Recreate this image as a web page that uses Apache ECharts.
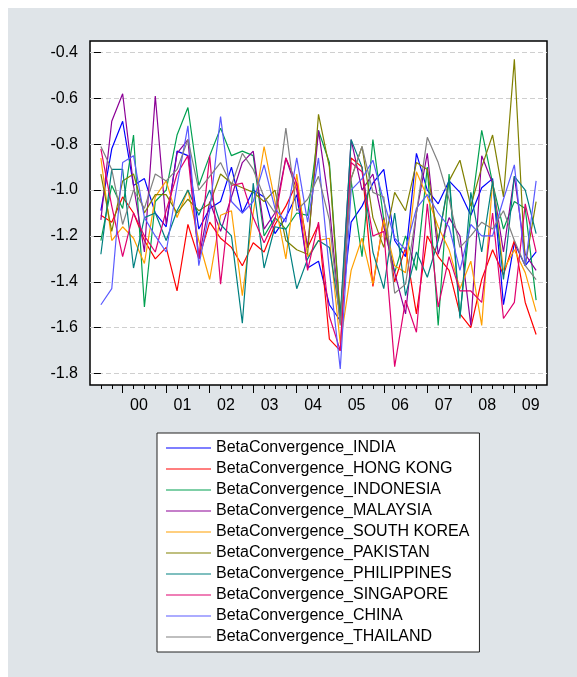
<!DOCTYPE html>
<html>
<head>
<meta charset="utf-8">
<script src="https://cdn.jsdelivr.net/npm/echarts@6/dist/echarts.min.js"></script>
<style>
	html, body { margin: 0; padding: 0; background: #fff; }
	#panel { position: absolute; left: 8px; top: 8px; width: 569px; height: 669px; background: #dfe4e8; }
	#chart { position: absolute; left: 0; top: 0; width: 577px; height: 677px; }
</style>
</head>
<body>
<div id="panel"></div>
<div id="chart"></div>
<script>
// quarterly observations, 1999Q3 .. 2009Q3 (index 0 .. 40)
const yearLabels = ['00', '01', '02', '03', '04', '05', '06', '07', '08', '09'];
const yTicks = [-1.8, -1.6, -1.4, -1.2, -1.0, -0.8, -0.6, -0.4];

const india = [-1.09, -0.82, -0.70, -0.98, -0.95, -1.10, -1.16, -0.83, -0.85, -1.17, -1.08, -1.05, -0.90, -1.10,
	-1.00, -1.03, -1.19, -1.12, -1.02, -1.34, -1.31, -1.50, -1.57, -1.14, -1.07, -0.97, -0.91, -1.22,
	-1.29, -0.84, -1.00, -1.06, -0.96, -1.01, -1.11, -0.99, -0.95, -1.50, -1.23, -1.33, -1.27];
const hongKong = [-1.11, -1.14, -1.03, -1.10, -1.22, -1.30, -1.25, -1.44, -1.15, -1.30, -1.14, -1.21, -1.25, -1.33,
	-1.23, -1.27, -1.15, -1.07, -0.97, -1.25, -1.15, -1.65, -1.70, -0.86, -0.90, -1.42, -1.12, -1.40,
	-1.25, -1.54, -1.20, -1.29, -1.35, -1.54, -1.60, -1.39, -1.26, -1.37, -1.22, -1.49, -1.63];
const indonesia = [-1.22, -0.98, -1.08, -0.76, -1.51, -1.05, -1.00, -0.76, -0.64, -0.98, -0.85, -0.73, -0.85, -0.83,
	-0.85, -1.20, -1.12, -1.17, -1.10, -1.11, -0.74, -0.88, -1.55, -0.96, -1.29, -0.78, -1.13, -1.36,
	-1.20, -1.35, -0.90, -1.59, -0.93, -1.55, -1.10, -0.74, -0.97, -1.17, -1.05, -1.08, -1.48];
const malaysia = [-1.13, -0.70, -0.58, -0.98, -1.27, -0.59, -1.15, -0.84, -0.78, -1.30, -1.05, -1.18, -1.03, -0.88,
	-0.83, -1.17, -1.10, -0.86, -1.00, -1.25, -0.74, -1.07, -1.58, -0.78, -1.00, -0.93, -1.16, -1.36,
	-1.54, -1.10, -0.84, -1.28, -1.12, -1.20, -1.59, -0.85, -0.97, -1.27, -0.94, -1.28, -1.35];
const southKorea = [-0.86, -1.22, -1.16, -1.21, -1.32, -1.03, -0.96, -1.12, -1.00, -1.22, -1.39, -1.11, -1.09, -1.46,
	-1.10, -0.81, -1.05, -1.30, -0.93, -1.29, -1.22, -1.21, -1.67, -1.35, -1.21, -1.41, -1.13, -1.33,
	-1.36, -0.92, -1.03, -1.16, -1.26, -1.43, -1.31, -1.59, -0.96, -1.35, -1.26, -1.36, -1.53];
const pakistan = [-0.93, -1.18, -0.96, -0.93, -1.10, -1.02, -1.02, -1.10, -1.04, -1.09, -1.06, -0.93, -0.97, -0.99,
	-1.01, -1.05, -1.00, -1.22, -1.26, -1.28, -0.67, -0.90, -1.56, -0.95, -0.81, -1.12, -1.25, -1.01,
	-1.09, -0.88, -0.91, -1.22, -0.96, -0.87, -1.07, -0.90, -0.76, -1.03, -0.43, -1.33, -1.05];
const philippines = [-1.28, -0.91, -0.91, -1.34, -1.12, -1.10, -1.22, -1.09, -1.00, -1.11, -1.00, -1.15, -1.20, -1.58,
	-0.97, -1.34, -1.16, -1.17, -1.43, -1.30, -1.22, -1.25, -1.55, -0.78, -0.90, -1.27, -1.43, -1.10,
	-1.46, -1.27, -1.38, -1.22, -0.95, -1.56, -1.01, -1.27, -0.96, -1.39, -0.94, -1.00, -1.19];
const singapore = [-0.82, -1.07, -1.29, -1.10, -1.20, -1.27, -1.09, -0.93, -0.85, -1.30, -0.85, -1.41, -0.98, -0.97,
	-1.12, -1.23, -1.13, -0.86, -0.97, -1.35, -1.14, -1.55, -1.70, -0.88, -0.92, -1.20, -1.18, -1.77,
	-1.48, -1.62, -1.06, -1.51, -1.29, -1.44, -1.44, -1.49, -1.10, -1.56, -1.49, -1.06, -1.27];
const china = [-1.50, -1.43, -0.88, -0.85, -1.12, -1.20, -1.27, -0.98, -0.72, -1.33, -1.09, -0.68, -1.05, -1.10,
	-1.05, -0.89, -1.08, -1.14, -0.86, -1.14, -0.86, -1.35, -1.78, -1.00, -0.95, -0.87, -1.05, -1.21,
	-1.26, -1.08, -1.02, -1.10, -1.16, -1.35, -1.15, -1.20, -1.20, -1.04, -0.89, -1.33, -0.96];
const thailand = [-0.81, -0.91, -1.15, -1.00, -1.08, -0.93, -0.96, -0.91, -0.78, -1.00, -0.94, -0.88, -0.98, -0.84,
	-0.91, -1.03, -1.10, -0.73, -1.09, -1.04, -0.94, -1.13, -1.59, -0.95, -0.81, -1.01, -1.03, -1.45,
	-1.41, -1.10, -0.77, -0.88, -1.04, -1.25, -1.20, -1.14, -1.17, -1.09, -1.22, -1.33, -1.39];

const seriesList = [
	{ name: 'BetaConvergence_INDIA', data: india, color: '#0000ff' },
	{ name: 'BetaConvergence_HONG KONG', data: hongKong, color: '#ff0000' },
	{ name: 'BetaConvergence_INDONESIA', data: indonesia, color: '#00a050' },
	{ name: 'BetaConvergence_MALAYSIA', data: malaysia, color: '#8c0096' },
	{ name: 'BetaConvergence_SOUTH KOREA', data: southKorea, color: '#ffa000' },
	{ name: 'BetaConvergence_PAKISTAN', data: pakistan, color: '#808000' },
	{ name: 'BetaConvergence_PHILIPPINES', data: philippines, color: '#008080' },
	{ name: 'BetaConvergence_SINGAPORE', data: singapore, color: '#e0006e' },
	{ name: 'BetaConvergence_CHINA', data: china, color: '#5a5aff' },
	{ name: 'BetaConvergence_THAILAND', data: thailand, color: '#808080' },
];

const quarterTicks = india.map((v, i) => i);
const yearTicks = yearLabels.map((y, k) => 2 + 4 * k);
const yearLabelPos = yearLabels.map((y, k) => 3.5 + 4 * k);

const font = '"Liberation Sans", Arial, sans-serif';

const chart = echarts.init(document.getElementById('chart'), null, { renderer: 'canvas' });

const option = {
	animation: false,
	backgroundColor: 'transparent',
	grid: {
		left: 90,
		top: 41,
		right: 30,
		bottom: 292,
		show: true,
		backgroundColor: '#fff',
		borderColor: '#000',
		borderWidth: 1.5,
	},
	xAxis: [
		{
			type: 'value',
			min: -1,
			max: 41,
			axisLine: { show: false, onZero: false },
			axisTick: { show: true, customValues: quarterTicks, length: 4, lineStyle: { color: '#000' } },
			axisLabel: { show: false },
			splitLine: { show: false },
		},
		{
			type: 'value',
			min: -1,
			max: 41,
			position: 'bottom',
			axisLine: { show: false, onZero: false },
			axisTick: { show: true, customValues: yearTicks, length: 8, lineStyle: { color: '#000' } },
			axisLabel: {
				show: true,
				customValues: yearLabelPos,
				margin: 13,
				fontSize: 16,
				color: '#000',
				fontFamily: font,
				formatter: (v) => yearLabels[Math.round((v - 3.5) / 4)],
			},
			splitLine: { show: false },
		},
	],
	yAxis: {
		type: 'value',
		min: -1.85,
		max: -0.35,
		axisLine: { show: false },
		axisTick: { show: true, customValues: yTicks, length: 7, lineStyle: { color: '#000' } },
		axisLabel: {
			customValues: yTicks,
			margin: 12,
			fontSize: 16,
			color: '#000',
			fontFamily: font,
			formatter: (v) => v.toFixed(1),
		},
		splitLine: { show: true, lineStyle: { color: '#cfcfcf', type: [5, 3], width: 1 } },
	},
	legend: {
		orient: 'vertical',
		left: 157,
		top: 433,
		backgroundColor: '#fff',
		borderColor: '#222',
		borderWidth: 1,
		padding: [7, 10, 7, 9],
		itemWidth: 45,
		itemHeight: 1.2,
		itemGap: 5,
		icon: 'rect',
		textStyle: { fontSize: 16, color: '#000', fontFamily: font },
		data: seriesList.map((s) => s.name),
	},
	series: seriesList.map((s) => ({
		name: s.name,
		type: 'line',
		xAxisIndex: 0,
		symbol: 'none',
		color: s.color,
		lineStyle: { width: 1.2, color: s.color },
		data: s.data.map((v, i) => [i, v]),
	})),
};

chart.setOption(option);
</script>
</body>
</html>
